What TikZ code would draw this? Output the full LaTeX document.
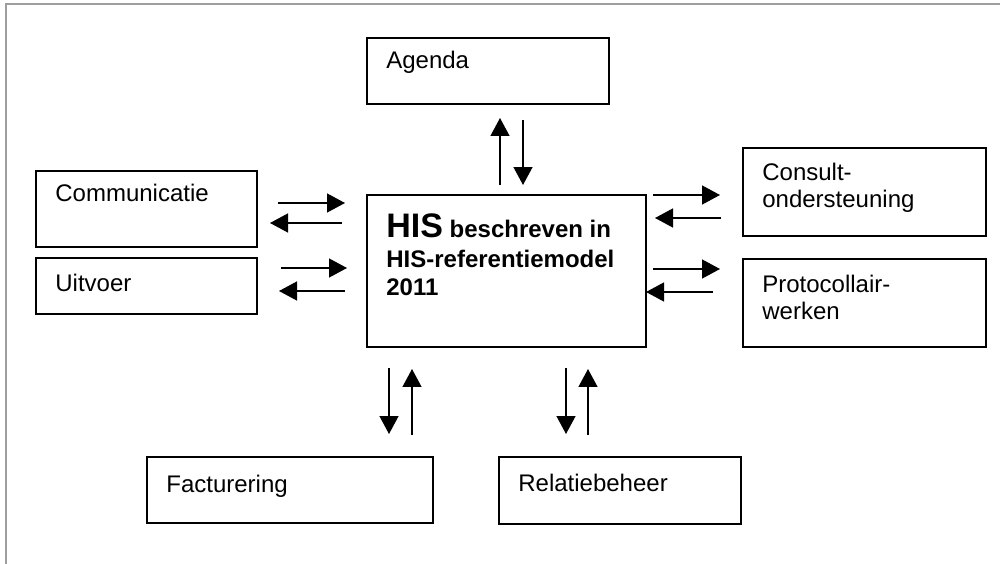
\documentclass[tikz,border=0pt]{standalone}
\usepackage{fontspec}
\setmainfont{Liberation Sans}
\usetikzlibrary{arrows.meta,calc}
\tikzset{
  box/.style={draw=black, line width=0.85pt, rectangle, inner sep=0pt},
  lbl/.style={anchor=base west, inner sep=0pt, font=\fontsize{13.66}{16}\selectfont},
  biglbl/.style={anchor=base west, inner sep=0pt, font=\fontsize{13.66}{16}\selectfont\bfseries},
  arr/.style={line width=0.75pt, -{Triangle[length=0.36cm,width=0.38cm]}},
  frame/.style={draw=black!38, line width=0.6pt}
}
\newcommand\mkbox[5]{%
  \node[box, minimum width={(#4-#2)*0.02cm}, minimum height={(#5-#3)*0.02cm}]
    (#1) at ({(#2+#4)/2},{(#3+#5)/2}) {};}
\begin{document}
\begin{tikzpicture}[x=0.02cm, y=-0.02cm]
\useasboundingbox (0,0) rectangle (1000,564);
\coordinate (f1) at (6,564);
\coordinate (f2) at (6,4);
\coordinate (f3) at (1000,4);
\draw[frame] (f1) -- (f2) -- (f3);

\mkbox{agenda}{367}{38}{609}{104}
\mkbox{comm}{36}{171}{257}{247}
\mkbox{uit}{36}{258}{257}{314}
\mkbox{his}{367}{195}{646}{347}
\mkbox{consult}{743}{148}{986}{236}
\mkbox{proto}{743}{259}{986}{347}
\mkbox{fact}{147}{457}{433}{523}
\mkbox{rel}{499}{457}{741}{524}

\node[lbl] (tagenda) at (386,69) {Agenda};
\node[lbl] (tcomm) at (55,202) {Communicatie};
\node[lbl] (tuit) at (55,291) {Uitvoer};
\node[lbl] (tcons1) at (762,181) {Consult-};
\node[lbl] (tcons2) at (762,208) {ondersteuning};
\node[lbl] (tprot1) at (762,292) {Protocollair-};
\node[lbl] (tprot2) at (762,319) {werken};
\node[lbl] (tfact) at (166,492) {Facturering};
\node[lbl] (trel) at (518,491) {Relatiebeheer};
\node[biglbl] (this1) at (386,237) {{\fontsize{19.35}{22}\selectfont HIS} beschreven in};
\node[biglbl] (this2) at (386,267) {HIS-referentiemodel};
\node[biglbl] (this3) at (386,295) {2011};

% top
\draw[arr] (500,185) -- (500,118);
\draw[arr] (523,120) -- (523,185);
% left
\draw[arr] (278,203) -- (345,203);
\draw[arr] (342,223) -- (270,223);
\draw[arr] (281,268) -- (347,268);
\draw[arr] (345,291) -- (279,291);
% right
\draw[arr] (653,195) -- (720,195);
\draw[arr] (721,218) -- (655,218);
\draw[arr] (653,269) -- (720,269);
\draw[arr] (713,292) -- (646,292);
% bottom
\draw[arr] (389,368) -- (389,434);
\draw[arr] (412,435) -- (412,369);
\draw[arr] (566,368) -- (566,434);
\draw[arr] (588,435) -- (588,369);
\end{tikzpicture}
\end{document}
